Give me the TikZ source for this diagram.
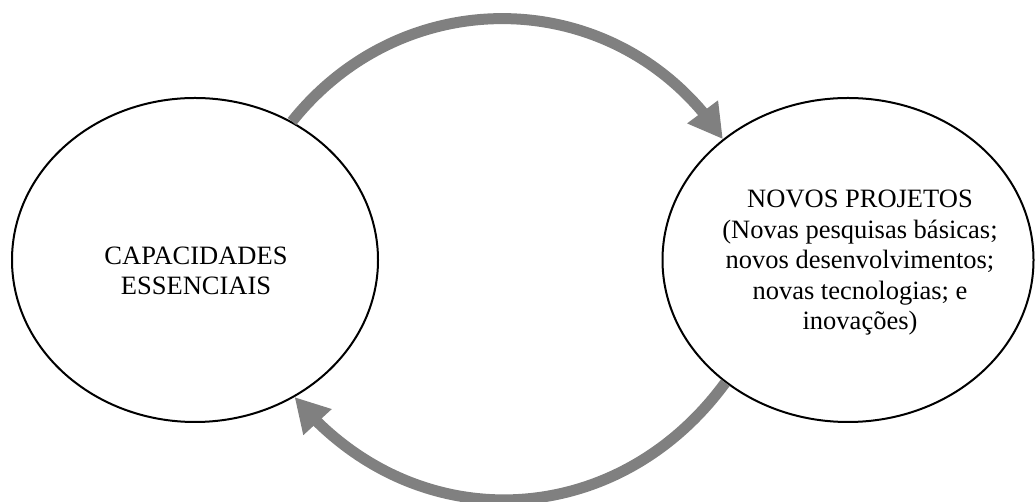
\documentclass[tikz,border=0pt]{standalone}
\usepackage{fontspec}
\setmainfont{Liberation Serif}
\usetikzlibrary{shapes.geometric,arrows.meta,bending}
\definecolor{arrowgray}{HTML}{808080}
\begin{document}
\begin{tikzpicture}[x=1pt,y=1pt,
  oval/.style={ellipse,draw=black,line width=2pt,minimum width=366pt,minimum height=324pt,inner sep=0pt},
  ovalwide/.style={oval,minimum width=371pt},
  txt/.style={font=\fontsize{26.5}{30.5}\selectfont,align=center,inner sep=0pt,anchor=base},
  cyc/.style={draw=arrowgray,line width=11pt,-{Triangle[length=34pt,width=36pt]}}]
\useasboundingbox (0,0) rectangle (1035,502);
\node[oval] (L) at (195,242) {};
\node[ovalwide] (R) at (848,242) {};
\node[txt] (Lt) at (196,207) {CAPACIDADES\\ESSENCIAIS};
\node[txt] (Rt) at (860,172) {NOVOS PROJETOS\\(Novas pesquisas básicas;\\novos desenvolvimentos;\\novas tecnologias; e\\inovações)};
\draw[cyc] (L.55) to[out=51.4,in=123.3,looseness=1.09] (R.136);
\draw[cyc] (R.225) to[out=233.8,in=309.4,looseness=1.1] (L.306.3);
\end{tikzpicture}
\end{document}
